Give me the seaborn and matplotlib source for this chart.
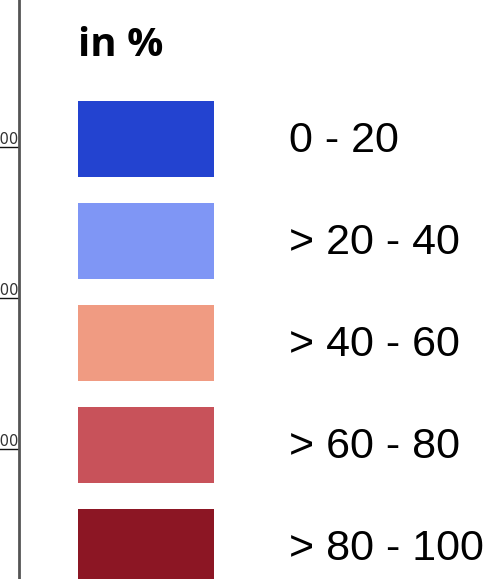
import matplotlib
matplotlib.use("Agg")
import matplotlib.pyplot as plt
from matplotlib.patches import Patch
import seaborn as sns

# Werte aus dem Bild
klassen = ["0 - 20", "> 20 - 40", "> 40 - 60", "> 60 - 80", "> 80 - 100"]
farben = ["#2343D0", "#7F96F5", "#F09B82", "#C8525A", "#8C1624"]
y_ticks = [1000, 2000, 3000]

sns.set_style("white")
plt.rcParams["text.color"] = "black"

fig = plt.figure(figsize=(4.98, 5.79), dpi=100)

# linke Achse (nur der rechte Rand ist im Bild zu sehen)
ax = fig.add_axes([-0.5, 0.0, 0.5382, 1.0])
ax.set_xlim(0, 1)
ax.set_ylim(133, 3980)
ax.set_yticks(y_ticks)
ax.set_yticklabels([str(v) for v in y_ticks])
ax.set_xticks([])
ax.yaxis.tick_right()
ax.tick_params(axis="y", length=0, pad=0, labelsize=10.5, labelcolor="#333333")
for lab in ax.get_yticklabels():
    lab.set_horizontalalignment("right")
    lab.set_verticalalignment("bottom")
    lab.set_fontfamily("DejaVu Sans")
ax.grid(axis="y", color="#111111", linewidth=1)
for s in ["left", "top", "bottom"]:
    ax.spines[s].set_visible(False)
ax.spines["right"].set_color("#555555")
ax.spines["right"].set_linewidth(2)

# Legende
handles = [Patch(facecolor=c, edgecolor="none", label=k) for k, c in zip(klassen, farben)]
leg = fig.legend(
    handles=handles,
    loc="upper left",
    bbox_to_anchor=(78 / 498, 1 - 26 / 579),
    borderaxespad=0,
    borderpad=0,
    frameon=False,
    prop={"family": "Liberation Sans", "size": 31},
    title="in %",
    title_fontproperties={"family": "Open Sans", "weight": "bold", "size": 29},
    alignment="left",
    handlelength=3.158,
    handleheight=2.338,
    labelspacing=0.604,
    handletextpad=1.74,
)
for t in leg.get_texts():
    t.set_color("black")
leg.get_title().set_color("black")
# etwas mehr Abstand zwischen Titel und Kästchen
leg._legend_box.sep = 26

fig.savefig("out.png", dpi=100)
